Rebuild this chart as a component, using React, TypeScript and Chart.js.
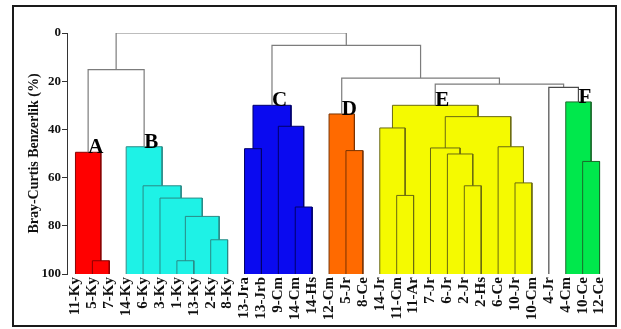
import React, { useEffect, useRef } from 'react';
import { Chart, registerables } from 'chart.js';

Chart.register(...registerables);

const leafLabels = ['11-Ky','5-Ky','7-Ky','14-Ky','6-Ky','3-Ky','1-Ky','13-Ky','2-Ky','8-Ky','13-Jra','13-Jrb','9-Cm','14-Cm','14-Hs','12-Cm','5-Jr','8-Ce','14-Jr','11-Cm','11-Ar','7-Jr','6-Jr','2-Jr','2-Hs','6-Ce','10-Jr','10-Cm','4-Jr','4-Cm','10-Ce','12-Ce'];

// merge k creates node id = leafLabels.length + k
const mergeLeft = [1,0,6,8,34,5,4,3,33,13,12,10,43,16,15,19,18,23,22,21,26,25,51,48,30,29,28,55,46,44,40];
const mergeRight = [2,32,7,9,35,36,37,38,39,14,41,11,42,17,45,20,47,24,49,50,27,52,53,54,31,56,57,58,59,60,61];
const mergeHeight = [94.5,49.5,94.5,85.8,76.1,68.5,63.4,47.2,15.2,72.2,38.7,48.0,30.0,48.8,33.6,67.4,39.4,63.4,50.2,47.7,62.2,47.2,34.7,30.0,53.3,28.6,22.6,21.2,18.7,5.1,0];
const mergeCluster = [0,0,1,1,1,1,1,1,-1,2,2,2,2,3,3,4,4,4,4,4,4,4,4,4,5,5,-1,-1,-1,-1,-1];

const clusterNames = ['A','B','C','D','E','F'];
const clusterFills = ['#ff0000','#1ef2e6','#0a0af0','#ff6a00','#f5fa00','#00e84c'];
const clusterEdges = ['#8a0000','#2a8a86','#00006a','#7a3300','#6a6a10','#1a6a2a'];

const yTicks = [0, 20, 40, 60, 80, 100];
const yTitle = 'Bray-Curtis Benzerlik (%)';

const FONT = '"Liberation Serif", "Times New Roman", serif';

function buildNodes() {
  const nodeX: number[] = leafLabels.map((_, i) => i);
  const nodeH: number[] = leafLabels.map(() => 100);
  mergeLeft.forEach((l, k) => {
    nodeX.push((nodeX[l] + nodeX[mergeRight[k]]) / 2);
    nodeH.push(mergeHeight[k]);
  });
  return { nodeX, nodeH };
}

export default function App() {
  const ref = useRef<HTMLCanvasElement | null>(null);

  useEffect(() => {
    if (!ref.current) return;
    const { nodeX, nodeH } = buildNodes();
    const n = leafLabels.length;
    const datasets: any[] = [];
    mergeLeft.forEach((l, k) => {
      const r = mergeRight[k];
      const h = mergeHeight[k];
      const c = mergeCluster[k];
      const xl = nodeX[l];
      const xr = nodeX[r];
      if (c >= 0) {
        datasets.push({
          data: [{ x: xl, y: 100 }, { x: xl, y: h }, { x: xr, y: h }, { x: xr, y: 100 }],
          fill: { value: 100 },
          backgroundColor: clusterFills[c],
          borderColor: clusterEdges[c],
          borderWidth: 1,
          pointRadius: 0,
          pointHoverRadius: 0,
          tension: 0,
          order: 100 - h,
        });
      } else {
        datasets.push({
          data: [{ x: xl, y: nodeH[l] }, { x: xl, y: h }, { x: xr, y: h }, { x: xr, y: nodeH[r] }],
          fill: false,
          borderColor: k === 26 ? '#4a4a4a' : '#7c7c7c',
          borderWidth: 1.2,
          pointRadius: 0,
          pointHoverRadius: 0,
          tension: 0,
          order: -1,
        });
      }
    });

    const labelPlugin = {
      id: 'clusterLabels',
      afterDatasetsDraw(chart: any) {
        const { ctx, scales } = chart;
        ctx.save();
        ctx.font = `bold 21px ${FONT}`;
        ctx.fillStyle = '#000';
        ctx.textAlign = 'left';
        ctx.textBaseline = 'alphabetic';
        clusterNames.forEach((name, c) => {
          let best = -1;
          mergeCluster.forEach((cc, k) => {
            if (cc === c && (best < 0 || mergeHeight[k] < mergeHeight[best])) best = k;
          });
          const node = n + best;
          ctx.fillText(name, scales.x.getPixelForValue(nodeX[node]), scales.y.getPixelForValue(nodeH[node]) + 1);
        });
        ctx.restore();
      },
    };

    const chart = new Chart(ref.current, {
      type: 'line',
      data: { datasets },
      plugins: [labelPlugin],
      options: {
        animation: false,
        responsive: false,
        maintainAspectRatio: false,
        layout: { padding: { left: 0, top: 33, right: 13, bottom: 0 } },
        plugins: { legend: { display: false }, tooltip: { enabled: false } },
        scales: {
          x: {
            type: 'linear',
            min: -0.5,
            max: n - 0.5,
            grid: { display: false, drawTicks: false },
            border: { display: false },
            afterBuildTicks: (axis: any) => {
              axis.ticks = leafLabels.map((_, i) => ({ value: i }));
            },
            afterFit: (axis: any) => {
              axis.height = 55;
            },
            ticks: {
              autoSkip: false,
              minRotation: 90,
              maxRotation: 90,
              padding: 3,
              color: '#111',
              font: { family: FONT, size: 15, weight: 'bold' },
              callback: (v: any) => leafLabels[Math.round(Number(v))],
            },
          },
          y: {
            type: 'linear',
            reverse: true,
            min: 0,
            max: 100,
            afterBuildTicks: (axis: any) => {
              axis.ticks = yTicks.map((v) => ({ value: v }));
            },
            afterFit: (axis: any) => {
              axis.width = 67;
            },
            ticks: {
              padding: 1,
              color: '#111',
              font: { family: FONT, size: 13, weight: 'bold' },
            },
            grid: { drawOnChartArea: false, drawTicks: true, tickLength: 5, color: '#333' },
            border: { display: true, color: '#333', width: 1 },
            title: {
              display: true,
              text: yTitle,
              color: '#111',
              font: { family: FONT, size: 14, weight: 'bold' },
              padding: { top: 26, bottom: 0 },
            },
          },
        },
      } as any,
    });
    return () => chart.destroy();
  }, []);

  return (
    <div style={{ position: 'fixed', left: 0, top: 0, width: 621, height: 329, background: '#fff' }}>
      <canvas ref={ref} width={621} height={329} style={{ display: 'block', width: 621, height: 329 }} />
      <div
        style={{
          position: 'absolute',
          left: 12,
          top: 5,
          width: 605,
          height: 322,
          boxSizing: 'border-box',
          border: '2px solid #1a1a1a',
          pointerEvents: 'none',
        }}
      />
    </div>
  );
}
